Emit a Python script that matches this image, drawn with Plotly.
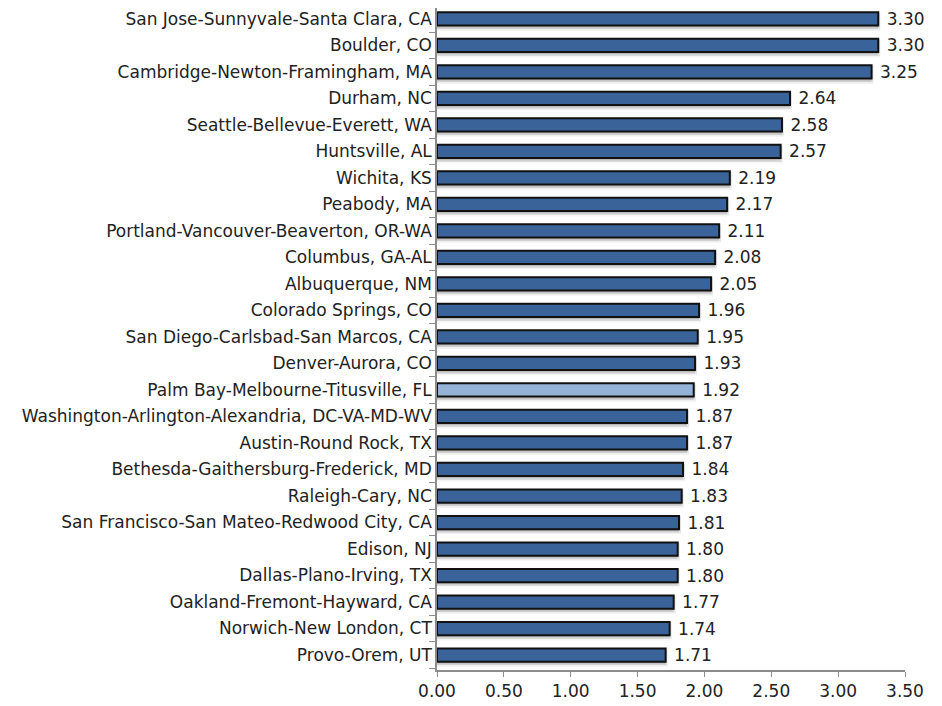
import plotly.graph_objects as go

cities = [
    "San Jose-Sunnyvale-Santa Clara, CA",
    "Boulder, CO",
    "Cambridge-Newton-Framingham, MA",
    "Durham, NC",
    "Seattle-Bellevue-Everett, WA",
    "Huntsville, AL",
    "Wichita, KS",
    "Peabody, MA",
    "Portland-Vancouver-Beaverton, OR-WA",
    "Columbus, GA-AL",
    "Albuquerque, NM",
    "Colorado Springs, CO",
    "San Diego-Carlsbad-San Marcos, CA",
    "Denver-Aurora, CO",
    "Palm Bay-Melbourne-Titusville, FL",
    "Washington-Arlington-Alexandria, DC-VA-MD-WV",
    "Austin-Round Rock, TX",
    "Bethesda-Gaithersburg-Frederick, MD",
    "Raleigh-Cary, NC",
    "San Francisco-San Mateo-Redwood City, CA",
    "Edison, NJ",
    "Dallas-Plano-Irving, TX",
    "Oakland-Fremont-Hayward, CA",
    "Norwich-New London, CT",
    "Provo-Orem, UT",
]
values = [3.30, 3.30, 3.25, 2.64, 2.58, 2.57, 2.19, 2.17, 2.11, 2.08, 2.05, 1.96,
          1.95, 1.93, 1.92, 1.87, 1.87, 1.84, 1.83, 1.81, 1.80, 1.80, 1.77, 1.74, 1.71]
highlight = "Palm Bay-Melbourne-Titusville, FL"
x_ticks = [0, 0.5, 1.0, 1.5, 2.0, 2.5, 3.0, 3.5]

colors = ["#95B3D7" if c == highlight else "#3A6399" for c in cities]

font_family = "'DejaVu Sans', Verdana, sans-serif"
fsize = 17
n = len(cities)

fig = go.Figure()
# soft drop shadow (two layers)
for off, alpha in [(-0.38, 0.08), (-0.32, 0.13)]:
    fig.add_trace(go.Bar(
        y=cities, x=values, orientation="h",
        marker=dict(color=f"rgba(0,0,0,{alpha})",
                    line=dict(color=f"rgba(0,0,0,{alpha / 2})", width=4)),
        width=0.5, offset=off, hoverinfo="skip", showlegend=False,
    ))
fig.add_trace(go.Bar(
    y=cities, x=values, orientation="h",
    marker=dict(color=colors, line=dict(color="#111111", width=2)),
    width=0.5, offset=-0.25,
    text=[f" {v:.2f}" for v in values], textposition="outside",
    constraintext="none",
    textfont=dict(size=fsize, color="#222222", family=font_family),
    cliponaxis=False, showlegend=False,
))
fig.update_layout(
    width=934, height=698,
    margin=dict(l=429, r=37, t=0, b=36),
    plot_bgcolor="white", paper_bgcolor="white",
    barmode="overlay",
    font=dict(family=font_family, size=fsize, color="#222222"),
)
fig.update_xaxes(
    range=[0, 3.5], tickvals=x_ticks, ticktext=[f"{t:.2f}" for t in x_ticks],
    showgrid=False, zeroline=False, showline=True, linecolor="#8c8c8c", linewidth=1.5,
    ticks="outside", ticklen=5, tickcolor="#8c8c8c",
    tickfont=dict(size=fsize, family=font_family, color="#222222"),
)
fig.update_yaxes(
    type="category", categoryorder="array", categoryarray=cities[::-1],
    autorange=False, range=[-0.566, n - 1 + 0.415],
    showgrid=False, showline=True, linecolor="#8c8c8c", linewidth=1.5,
    ticks="outside", ticklen=6, tickcolor="#8c8c8c", tickson="boundaries",
    tickfont=dict(size=fsize, family=font_family, color="#222222"),
)
fig.write_html("out.html")
